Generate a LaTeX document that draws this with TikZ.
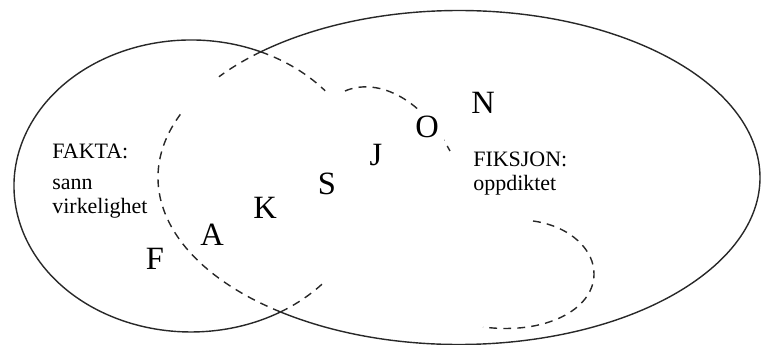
\documentclass[tikz,border=0pt]{standalone}
\usepackage{fontspec}
\setmainfont{Liberation Serif}
\usetikzlibrary{positioning}
\definecolor{outline}{RGB}{40, 40, 40}
\tikzset{
  ring/.style={draw=outline, line width=0.8pt},
  ringdash/.style={ring, dash pattern=on 4.5pt off 3.5pt},
  letter/.style={font=\fontsize{18.5}{20}\selectfont, fill=white, inner sep=3pt},
  setlabel/.style={font=\fontsize{12.5}{13.6}\selectfont, align=left,
                   anchor=north west, inner sep=0pt},
}

\begin{document}
\begin{tikzpicture}
  \useasboundingbox (0,0) rectangle (15.26,6.9);

  % ============ CENTRES OF THE TWO SETS ============
  \coordinate (fakta)   at (3.82,3.18);
  \coordinate (fiksjon) at (9.18,3.35);

  % ============ FAKTA (solid outside, dashed inside FIKSJON) ============
  \draw[ring] ([shift={(66.8:3.54 and 2.92)}]fakta)
    arc[start angle=66.8, end angle=300.36, x radius=3.54, y radius=2.92];
  \draw[ringdash] ([shift={(66.8:3.54 and 2.92)}]fakta)
    arc[start angle=66.8, end angle=40.7, x radius=3.54, y radius=2.92];
  \draw[ringdash] ([shift={(-59.64:3.54 and 2.92)}]fakta)
    arc[start angle=-59.64, end angle=-41.7, x radius=3.54, y radius=2.92];

  % ============ FIKSJON (solid outside, dashed inside FAKTA) ============
  \draw[ring] ([shift={(-126.4:6.02 and 3.34)}]fiksjon)
    arc[start angle=-126.4, end angle=131.2, x radius=6.02, y radius=3.34];
  \draw[ringdash] ([shift={(131.2:6.02 and 3.34)}]fiksjon)
    arc[start angle=131.2, end angle=142.9, x radius=6.02, y radius=3.34];
  \draw[ringdash] ([shift={(233.6:6.02 and 3.34)}]fiksjon)
    arc[start angle=233.6, end angle=157.8, x radius=6.02, y radius=3.34];

  % loose dashed strokes
  \draw[ringdash] (6.90,5.08) .. controls (7.50,5.34) and (8.40,5.00) .. (9.00,3.88);
  \draw[ringdash] (10.66,2.48) .. controls (11.40,2.38) and (11.90,1.90) .. (11.88,1.40)
                  .. controls (11.86,0.70) and (10.90,0.20) .. (9.66,0.36);

  % ============ F A K S J O N ============
  \node[letter] (lf) at (3.10,1.72) {F};
  \node[letter] (la) at (4.24,2.20) {A};
  \node[letter] (lk) at (5.30,2.74) {K};
  \node[letter] (ls) at (6.54,3.22) {S};
  \node[letter] (lj) at (7.52,3.80) {J};
  \node[letter] (lo) at (8.54,4.36) {O};
  \node[letter] (ln) at (9.66,4.84) {N};

  % ============ LABELS ============
  \node[setlabel] (faktatext)   at (1.04,4.02) {FAKTA:\\[4pt]sann\\virkelighet};
  \node[setlabel] (fiksjontext) at (9.46,3.86) {FIKSJON:\\oppdiktet};

\end{tikzpicture}
\end{document}
